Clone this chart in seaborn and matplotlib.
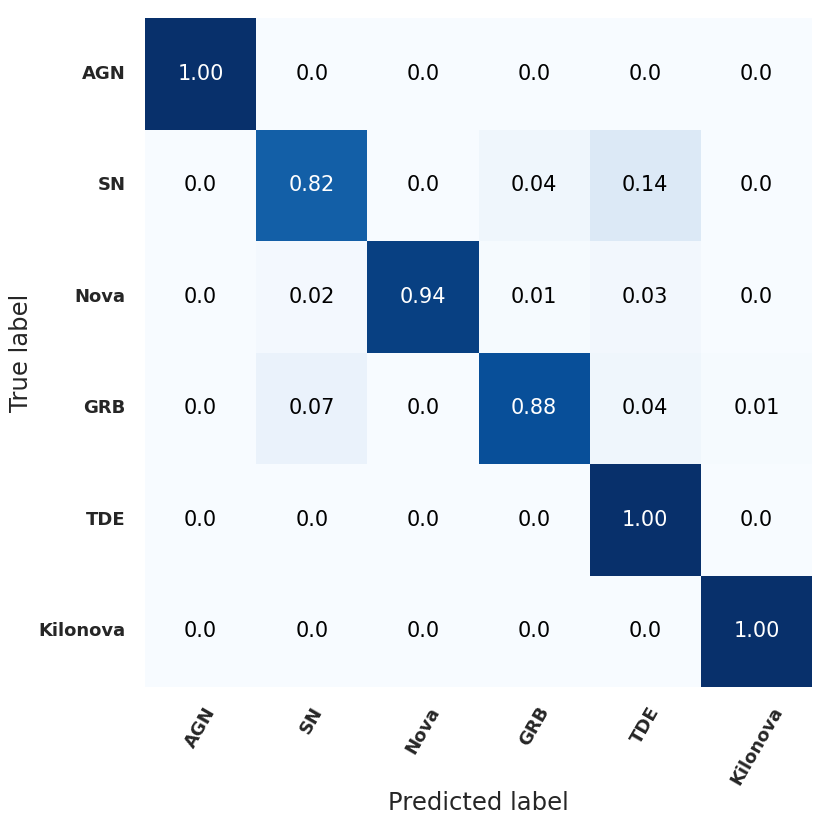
import numpy as np
import matplotlib
matplotlib.use("Agg")
import matplotlib.pyplot as plt
import seaborn as sns

classes = ["AGN", "SN", "Nova", "GRB", "TDE", "Kilonova"]

# rows = true label, columns = predicted label
row_agn = [1.00, 0.0, 0.0, 0.0, 0.0, 0.0]
row_sn = [0.0, 0.82, 0.0, 0.04, 0.14, 0.0]
row_nova = [0.0, 0.02, 0.94, 0.01, 0.03, 0.0]
row_grb = [0.0, 0.07, 0.0, 0.88, 0.04, 0.01]
row_tde = [0.0, 0.0, 0.0, 0.0, 1.00, 0.0]
row_kilonova = [0.0, 0.0, 0.0, 0.0, 0.0, 1.00]

cm = np.array([row_agn, row_sn, row_nova, row_grb, row_tde, row_kilonova])

# zeros are printed as "0.0", everything else with two decimals
labels = np.array([["0.0" if v == 0 else f"{v:.2f}" for v in row] for row in cm])

sns.set_style("white")

fig = plt.figure(figsize=(8.31, 8.27), dpi=100)
ax = fig.add_axes([145 / 831, 140 / 827, 667 / 831, 669 / 827])

sns.heatmap(
    cm,
    annot=labels,
    fmt="",
    cmap="Blues",
    vmin=0,
    vmax=1,
    cbar=False,
    xticklabels=classes,
    yticklabels=classes,
    annot_kws={"fontsize": 15},
    ax=ax,
)

# dark annotations in pure black, light ones stay white
for t in ax.texts:
    if t.get_color() != "w":
        t.set_color("black")

ax.set_xticklabels(classes, rotation=60, fontsize=13, fontweight="bold")
ax.set_yticklabels(classes, rotation=0, fontsize=13, fontweight="bold")
ax.tick_params(axis="x", length=0, pad=12)
ax.tick_params(axis="y", length=0, pad=14)
ax.set_xlabel("Predicted label", fontsize=17.5, labelpad=2)
ax.set_ylabel("True label", fontsize=17.5)

fig.savefig("out.png", dpi=100)
